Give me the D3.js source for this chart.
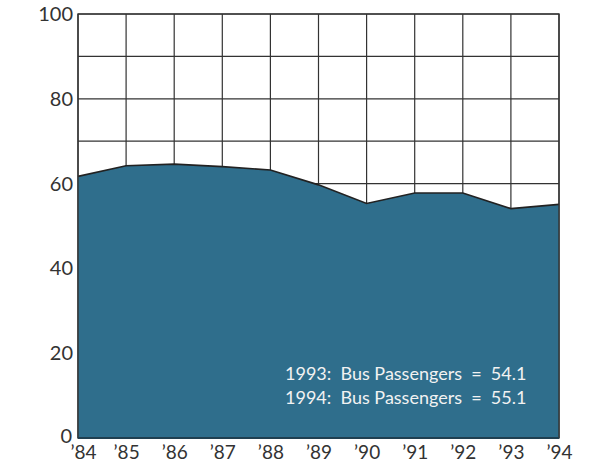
<!DOCTYPE html>
<html>
<head>
<meta charset="utf-8">
<script src="https://cdn.jsdelivr.net/npm/d3@7"></script>
<style>
  body { margin: 0; background: #fff; }
  text { font-family: "Lato", "Open Sans", sans-serif; white-space: pre; }
</style>
</head>
<body>
<div class="svg_area"></div>
<script>
// Bus passengers, 1984 - 1994

var years = [1984, 1985, 1986, 1987, 1988, 1989, 1990, 1991, 1992, 1993, 1994];
var passengers = [61.7, 64.2, 64.6, 64.0, 63.2, 59.7, 55.3, 57.8, 57.8, 54.1, 55.1];
var yTickValues = [0, 20, 40, 60, 80, 100];
var yGridValues = [10, 20, 30, 40, 50, 60, 70, 80, 90, 100];
var xTickLabels = ["’84", "’85", "’86", "’87", "’88", "’89", "’90", "’91", "’92", "’93", "’94"];
var notes = ["1993:  Bus Passengers  =  54.1", "1994:  Bus Passengers  =  55.1"];

var svgWidth = 592;
var svgHeight = 467;

var margin = { top: 14, right: 33, bottom: 29, left: 78 };
var chartWidth = svgWidth - margin.left - margin.right;
var chartHeight = svgHeight - margin.top - margin.bottom;

var svg = d3.select(".svg_area")
  .append("svg")
  .attr("width", svgWidth)
  .attr("height", svgHeight);

var chartGroup = svg.append("g")
  .attr("transform", `translate(${margin.left}, ${margin.top})`);

var data = years.map((y, i) => ({ year: y, value: passengers[i] }));

var xScale = d3.scaleLinear()
  .domain([1984, 1994])
  .range([0, chartWidth]);

var yScale = d3.scaleLinear()
  .domain([0, 100])
  .range([chartHeight, 0]);

// grid
chartGroup.selectAll(".vgrid")
  .data(years)
  .enter()
  .append("line")
  .attr("x1", d => xScale(d))
  .attr("x2", d => xScale(d))
  .attr("y1", 0)
  .attr("y2", chartHeight)
  .attr("stroke", "#333")
  .attr("stroke-width", 1.2);

chartGroup.selectAll(".hgrid")
  .data(yGridValues)
  .enter()
  .append("line")
  .attr("x1", 0)
  .attr("x2", chartWidth)
  .attr("y1", d => yScale(d))
  .attr("y2", d => yScale(d))
  .attr("stroke", "#333")
  .attr("stroke-width", 1.2);

// area
var area = d3.area()
  .x(d => xScale(d.year))
  .y0(yScale(0))
  .y1(d => yScale(d.value));

chartGroup.append("path")
  .datum(data)
  .attr("d", area)
  .attr("fill", "#2f6e8c");

var line = d3.line()
  .x(d => xScale(d.year))
  .y(d => yScale(d.value));

chartGroup.append("path")
  .datum(data)
  .attr("d", line)
  .attr("fill", "none")
  .attr("stroke", "#222")
  .attr("stroke-width", 1.6);

// frame
chartGroup.append("rect")
  .attr("x", 0)
  .attr("y", 0)
  .attr("width", chartWidth)
  .attr("height", chartHeight)
  .attr("fill", "none")
  .attr("stroke", "#333")
  .attr("stroke-width", 1.4);

chartGroup.append("line")
  .attr("x1", 0)
  .attr("x2", chartWidth)
  .attr("y1", chartHeight)
  .attr("y2", chartHeight)
  .attr("stroke", "#1f3f50")
  .attr("stroke-width", 2);

// axes
var leftAxis = d3.axisLeft(yScale)
  .tickValues(yTickValues)
  .tickSize(0)
  .tickPadding(5);

var leftG = chartGroup.append("g").call(leftAxis);
leftG.select(".domain").remove();
leftG.selectAll("text")
  .attr("font-size", 20)
  .attr("fill", "#333")
  .style("font-family", "Lato, sans-serif");
// the zero sits a little lower, just above the '84
leftG.selectAll(".tick text")
  .filter(d => d === 0)
  .attr("dy", "0.2em")
  .attr("x", -6);

var bottomAxis = d3.axisBottom(xScale)
  .tickValues(years)
  .tickFormat((d, i) => xTickLabels[i])
  .tickSize(0)
  .tickPadding(8);

var bottomG = chartGroup.append("g")
  .attr("transform", `translate(0, ${chartHeight})`)
  .call(bottomAxis);
bottomG.select(".domain").remove();
bottomG.selectAll("text")
  .attr("font-size", 19)
  .attr("fill", "#333")
  .style("font-family", "Lato, sans-serif");
bottomG.selectAll(".tick text")
  .filter(d => d === 1984)
  .attr("x", 5);

// note
chartGroup.selectAll(".note")
  .data(notes)
  .enter()
  .append("text")
  .attr("x", 207)
  .attr("y", (d, i) => 366 + i * 24)
  .attr("fill", "#f2f2f2")
  .attr("font-size", 18)
  .text(d => d);
</script>
</body>
</html>
